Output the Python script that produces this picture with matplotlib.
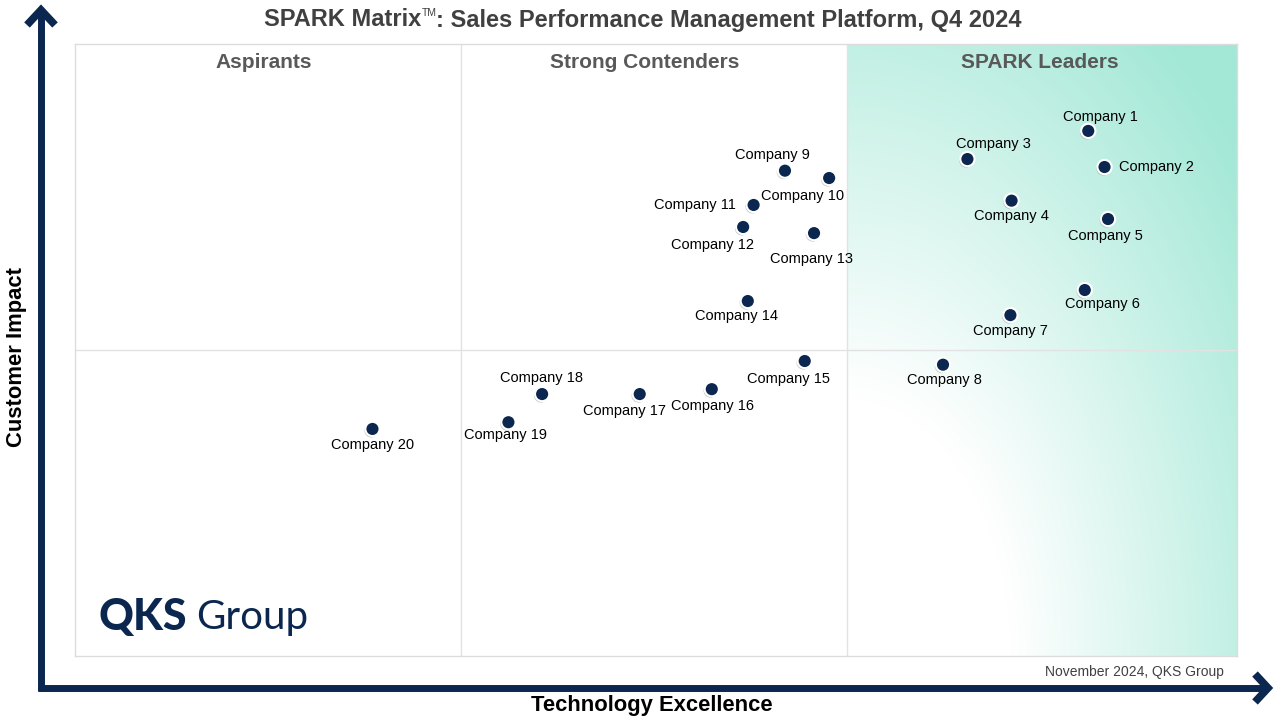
import numpy as np
import matplotlib
matplotlib.use("Agg")
import matplotlib.pyplot as plt
from matplotlib.lines import Line2D
import matplotlib.patheffects as pe

plt.rcParams['font.family'] = ['Liberation Sans', 'DejaVu Sans']

# ---- data ----
companies = [f"Company {i}" for i in range(1, 21)]
tech_excellence = [87.2, 88.6, 76.8, 80.6, 88.9, 86.9, 80.5, 74.7, 61.1, 64.9,
                   58.4, 57.5, 63.6, 57.9, 62.8, 54.8, 48.6, 40.2, 37.3, 25.6]
customer_impact = [85.8, 79.9, 81.2, 74.4, 71.4, 59.8, 55.7, 47.6, 79.3, 78.1,
                   73.7, 70.1, 69.1, 58.0, 48.2, 43.6, 42.8, 42.8, 38.2, 37.1]
quadrant_names = ["Aspirants", "Strong Contenders", "SPARK Leaders"]
title_parts = ["SPARK Matrix", "TM", ": Sales Performance Management Platform, Q4 2024"]
x_label = "Technology Excellence"
y_label = "Customer Impact"
footnote = "November 2024, QKS Group"

# label layout (offset in pixels, horizontal alignment)
label_layout = [(12, 14, 'center'), (14, 0, 'left'), (26, 15, 'center'), (0, -15, 'center'),
                (-3, -17, 'center'), (18, -14, 'center'), (0, -16, 'center'), (1, -15, 'center'),
                (-13, 16, 'center'), (-27, -18, 'center'), (-18, 0, 'right'), (-31, -18, 'center'),
                (-3, -26, 'center'), (-11, -15, 'center'), (-16, -18, 'center'), (1, -17, 'center'),
                (-15, -17, 'center'), (-1, 16, 'center'), (-3, -13, 'center'), (0, -16, 'center')]

W, H = 1280, 720
fig = plt.figure(figsize=(12.8, 7.2), dpi=100)
fig.patch.set_facecolor('white')

L, T, R, B = 75, 44, 1237, 656
ax = fig.add_axes([L / W, 1 - B / H, (R - L) / W, (B - T) / H])
ax.set_xlim(0, 100)
ax.set_ylim(0, 100)
ax.set_xticks([])
ax.set_yticks([])
for s in ax.spines.values():
    s.set_color('#dcdcdc')
    s.set_linewidth(1.0)

div1, div2 = 33.2, 66.45

# gradient for leaders quadrant
nx, ny = 200, 300
u = np.linspace(0, 1, nx)[None, :]
v = np.linspace(0, 1, ny)[:, None]
r = np.sqrt(u ** 2 + v ** 2)
t = np.clip((r - 0.42) / (1.3 - 0.42), 0, 1)
mint = np.array([0xa3, 0xe8, 0xd6]) / 255.0
img = np.ones((ny, nx, 3)) * (1 - t[..., None]) + mint * t[..., None]
ax.imshow(img, extent=[div2, 100, 0, 100], origin='lower', aspect='auto', zorder=0,
          interpolation='bilinear')
ax.set_xlim(0, 100)
ax.set_ylim(0, 100)

# dividers
for xv in (div1, div2):
    ax.axvline(xv, color='#e2e2e2', lw=1.0, zorder=1)
ax.axhline(50, color='#e2e2e2', lw=1.0, zorder=1)

# quadrant titles
qx = [16.2, 49.0, 83.0]
for name, xq in zip(quadrant_names, qx):
    ax.text(xq, 97.0, name, ha='center', va='center', fontsize=15, fontweight='bold',
            color='#595959', zorder=3)

# points
ax.scatter(tech_excellence, customer_impact, s=105, color='#0b2750', edgecolor='white',
           linewidth=1.5, zorder=5,
           path_effects=[pe.SimplePatchShadow(offset=(-0.8, -1.0), shadow_rgbFace='#9a9a9a', alpha=0.6),
                         pe.Normal()])

for name, xv, yv, (dx, dy, ha) in zip(companies, tech_excellence, customer_impact, label_layout):
    ax.annotate(name, (xv, yv), xytext=(dx, dy), textcoords='offset pixels',
                ha=ha, va='center', fontsize=10.5, color='black', zorder=6)

# title built from parts with small superscript TM
renderer = fig.canvas.get_renderer()
title_y = 1 - 20 / H
sizes = [17, 7.5, 17]
weights = ['bold', 'normal', 'bold']
yoffs = [0, 7, 0]
widths = []
for part, fs, fw in zip(title_parts, sizes, weights):
    tt = fig.text(0, 0, part, fontsize=fs, fontweight=fw)
    widths.append(tt.get_window_extent(renderer).width)
    tt.remove()
total = sum(widths)
x0 = 643 - total / 2
for part, fs, fw, w, yo in zip(title_parts, sizes, weights, widths, yoffs):
    fig.text(x0 / W, title_y + yo / H, part, ha='left', va='center', fontsize=fs,
             fontweight=fw, color='#404040')
    x0 += w

fig.text(652 / W, 1 - 705 / H, x_label, ha='center', va='center', fontsize=15.8,
         fontweight='bold', color='black')
fig.text(17 / W, 1 - 357 / H, y_label, ha='center', va='center', fontsize=15.8,
         fontweight='bold', color='black', rotation=90)
fig.text(1224 / W, 1 - 672 / H, footnote, ha='right', va='center', fontsize=10,
         color='#404040')

# logo
fig.text(99 / W, 1 - 617 / H, "QKS", ha='left', va='center', fontsize=31,
         fontweight=900, color='#0b2750', family=['Lato', 'DejaVu Sans'])
fig.text(196 / W, 1 - 617 / H, "Group", ha='left', va='center', fontsize=29,
         color='#0b2750', family=['Lato', 'DejaVu Sans'])

# axis arrows (figure pixels)
navy = '#0b2750'
def fx(p):
    return p / W
def fy(p):
    return 1 - p / H
lw = 5.0
fig.add_artist(Line2D([fx(41), fx(41)], [fy(691), fy(12)], color=navy, lw=lw,
                      solid_capstyle='butt', transform=fig.transFigure))
fig.add_artist(Line2D([fx(38), fx(1266)], [fy(688), fy(688)], color=navy, lw=lw,
                      solid_capstyle='butt', transform=fig.transFigure))
fig.add_artist(Line2D([fx(27), fx(41), fx(55)], [fy(25), fy(10), fy(25)], color=navy, lw=lw + 0.5,
                      solid_joinstyle='miter', solid_capstyle='butt', transform=fig.transFigure))
fig.add_artist(Line2D([fx(1255), fx(1268), fx(1255)], [fy(674), fy(688), fy(702)], color=navy,
                      lw=lw + 0.5, solid_joinstyle='miter', solid_capstyle='butt',
                      transform=fig.transFigure))

fig.savefig('out.png', dpi=100, facecolor='white')
